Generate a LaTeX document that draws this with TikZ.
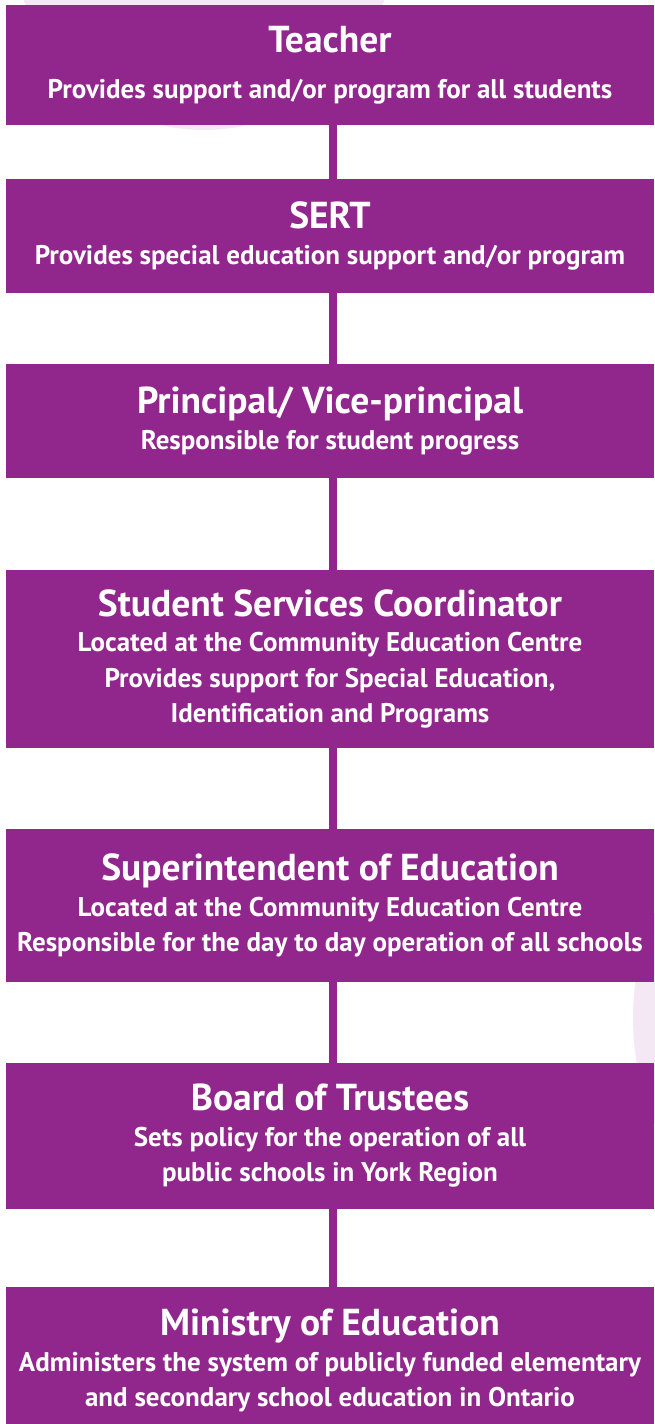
\documentclass[tikz,border=0pt]{standalone}
\usepackage{fontspec}
\setmainfont{PT Sans}
\usepackage{xcolor}
\usepackage{tikz}
\definecolor{plum}{HTML}{91278C}
\definecolor{halo}{HTML}{F5E8F5}
\definecolor{text}{HTML}{FFFFFF}
\tikzset{
  TierBox/.style={
    fill=plum, text=text,
    minimum width=648, inner sep=0pt,
    align=center,
    font=\bfseries\fontsize{27}{35.5}\selectfont
  },
  TierLink/.style={
    draw=plum, line width=8pt
  }
}
\newcommand{\TierText}[3][0pt]{%
  % #1 = extra gap under the title, #2 = title, #3 = lines below it
  {\fontsize{37.5}{37.5}\selectfont #2}\\[#1] #3%
}

\begin{document}
\begin{tikzpicture}[x=1pt, y=-1pt]
  \useasboundingbox (0,0) rectangle (654,1424);

  % faint rings behind the chart
  \fill[halo] (204,-60) circle[radius=190];
  \fill[halo] (900,1018) circle[radius=267];

  \node[TierBox, minimum height=120] (teacher) at (330,65)
    {\TierText[10pt]{Teacher}{Provides support and/or program for all students}};
  \node[TierBox, minimum height=114] (sert) at (330,236)
    {\TierText{SERT}{Provides special education support and/or program}};
  \node[TierBox, minimum height=114] (principal) at (330,421)
    {\TierText{Principal/ Vice-principal}{Responsible for student progress}};
  \node[TierBox, minimum height=178] (coordinator) at (330,659)
    {\TierText{Student Services Coordinator}{Located at the Community Education Centre\\
     Provides support for Special Education,\\ Identification and Programs}};
  \node[TierBox, minimum height=153] (superintendent) at (330,905.5)
    {\TierText{Superintendent of Education}{Located at the Community Education Centre\\
     Responsible for the day to day operation of all schools}};
  \node[TierBox, minimum height=146] (board) at (330,1136)
    {\TierText{Board of Trustees}{Sets policy for the operation of all\\
     public schools in York Region}};
  \node[TierBox, minimum height=147] (ministry) at (330,1360.5)
    {\TierText{Ministry of Education}{Administers the system of publicly funded elementary\\
     and secondary school education in Ontario}};

  \draw[TierLink] ([xshift=3pt]teacher.south) -- ([xshift=3pt]sert.north);
  \draw[TierLink] ([xshift=3pt]sert.south) -- ([xshift=3pt]principal.north);
  \draw[TierLink] ([xshift=3pt]principal.south) -- ([xshift=3pt]coordinator.north);
  \draw[TierLink] ([xshift=3pt]coordinator.south) -- ([xshift=3pt]superintendent.north);
  \draw[TierLink] ([xshift=3pt]superintendent.south) -- ([xshift=3pt]board.north);
  \draw[TierLink] ([xshift=3pt]board.south) -- ([xshift=3pt]ministry.north);
\end{tikzpicture}
\end{document}
